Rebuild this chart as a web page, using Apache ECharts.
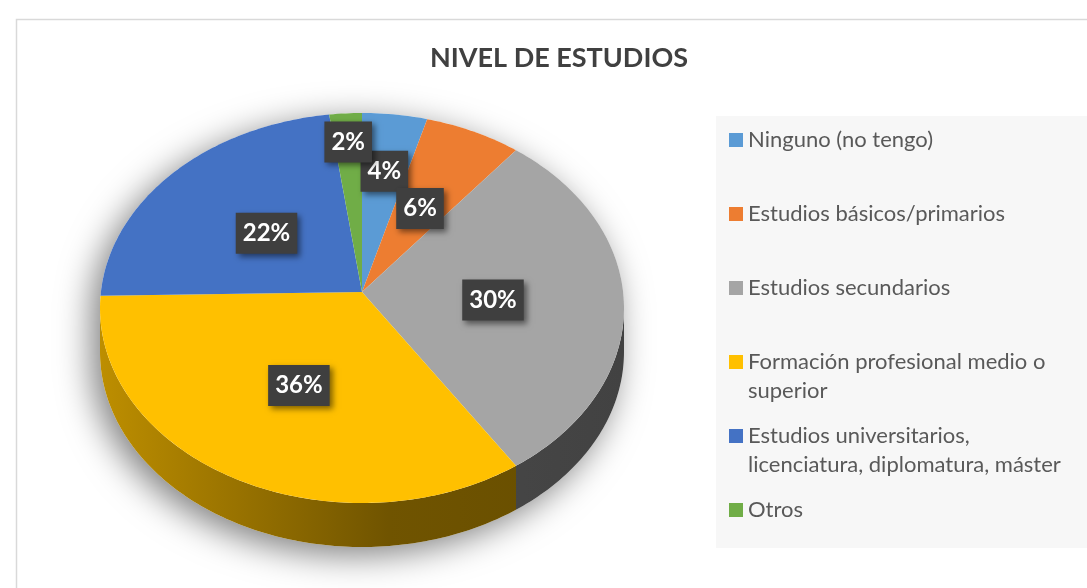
<!DOCTYPE html>
<html>
<head>
<meta charset="utf-8">
<script src="https://cdn.jsdelivr.net/npm/echarts@6/dist/echarts.min.js"></script>
<style>
html, body { margin: 0; padding: 0; background: #fff; }
#container { width: 1087px; height: 588px; }
</style>
</head>
<body>
<div id="container"></div>
<script>
var categories = [
    'Ninguno (no tengo)',
    'Estudios básicos/primarios',
    'Estudios secundarios',
    'Formación profesional medio o superior',
    'Estudios universitarios, licenciatura, diplomatura, máster',
    'Otros'
];
var values = [4, 6, 30, 36, 22, 2];
var legendText = [
    'Ninguno (no tengo)',
    'Estudios básicos/primarios',
    'Estudios secundarios',
    'Formación profesional medio o\nsuperior',
    'Estudios universitarios,\nlicenciatura, diplomatura, máster',
    'Otros'
];
var colors = ['#5b9bd5', '#ed7d31', '#a5a5a5', '#ffc000', '#4472c4', '#70ad47'];

var dom = document.getElementById('container');
var myChart = echarts.init(dom);

// tilted pie geometry
var cx = 362, cy = 308, rx = 262, ry = 195, depth = 44;
var apexX = 362, apexY = 292;
var font = 'Lato';

function pt(a, dy) {
    return [cx + rx * Math.sin(a), cy - ry * Math.cos(a) + (dy || 0)];
}
function arc(a0, a1, dy) {
    var pts = [];
    var n = Math.max(2, Math.ceil(Math.abs(a1 - a0) / (Math.PI / 180)));
    for (var k = 0; k <= n; k++) pts.push(pt(a0 + (a1 - a0) * k / n, dy));
    return pts;
}
function shade(hex, f) {
    var r = parseInt(hex.substr(1, 2), 16), g = parseInt(hex.substr(3, 2), 16), b = parseInt(hex.substr(5, 2), 16);
    return 'rgb(' + Math.round(r * f) + ',' + Math.round(g * f) + ',' + Math.round(b * f) + ')';
}

var total = values.reduce(function (s, v) { return s + v; }, 0);

function makeRender(i) {
    return function (params, api) {
        var before = 0;
        for (var j = 0; j < i; j++) before += values[j];
        var v = api.value(0);
        var a0 = before / total * Math.PI * 2;
        var a1 = (before + v) / total * Math.PI * 2;
        var children = [];

        if (i === 0) {
            // soft shadow under the whole pie
            var sil = arc(-Math.PI / 2, Math.PI / 2, 0).concat(arc(Math.PI / 2, Math.PI * 1.5, depth));
            children.push({
                type: 'polygon', z2: -10, shape: { points: sil },
                style: { fill: '#ffffff', shadowBlur: 34, shadowColor: 'rgba(0,0,0,0.5)', shadowOffsetX: -8, shadowOffsetY: 8 }
            });
        }

        // side wall (front half only)
        var s0 = Math.max(a0, Math.PI / 2), s1 = Math.min(a1, Math.PI * 1.5);
        if (s1 > s0) {
            var side = arc(s0, s1, 0).concat(arc(s1, s0, depth));
            children.push({
                type: 'polygon', z2: 1, shape: { points: side },
                style: {
                    fill: new echarts.graphic.LinearGradient(cx - rx, 0, cx + rx, 0, [
                        { offset: 0, color: shade(colors[i], 0.74) },
                        { offset: 0.55, color: shade(colors[i], 0.44) },
                        { offset: 1, color: shade(colors[i], 0.40) }
                    ], true)
                }
            });
        }

        // top surface
        children.push({
            type: 'polygon', z2: 2,
            shape: { points: [[apexX, apexY]].concat(arc(a0, a1, 0)) },
            style: { fill: colors[i] }
        });

        // data label
        var pct = Math.round(v / total * 100);
        var f = Math.max(0.5, 1 - pct * 0.08);
        var mid = (a0 + a1) / 2;
        var e = pt(mid, 0);
        children.push({
            type: 'text', z2: 100,
            style: {
                text: pct + '%',
                x: apexX + (e[0] - apexX) * f,
                y: apexY + (e[1] - apexY) * f,
                align: 'center', verticalAlign: 'middle',
                fill: '#ffffff', fontSize: 24, fontWeight: 'bold', fontFamily: font,
                backgroundColor: '#3f3f3f', padding: [9, 7, 8, 7],
                shadowBlur: 6, shadowColor: 'rgba(0,0,0,0.5)', shadowOffsetX: 3, shadowOffsetY: 3
            }
        });
        return { type: 'group', children: children };
    };
}

var series = categories.map(function (name, i) {
    return {
        name: name,
        type: 'custom',
        coordinateSystem: 'none',
        color: colors[i],
        silent: true,
        renderItem: makeRender(i),
        data: [values[i]]
    };
});

// icon centres of the legend entries, one slot per entry
var legendFirst = 140, legendStep = 74;
var lineH = 29;
var legends = categories.map(function (name, i) {
    var twoLines = legendText[i].indexOf('\n') >= 0;
    var centre = legendFirst + i * legendStep;
    return {
        data: [name],
        left: 729,
        top: centre - (twoLines ? lineH * 1.5 : lineH / 2),
        padding: 0,
        icon: 'rect',
        itemWidth: 14,
        itemHeight: 14,
        selectedMode: false,
        // a blank first line keeps the icon level with the first real line
        formatter: function (n) {
            var t = legendText[categories.indexOf(n)];
            return t.indexOf('\n') >= 0 ? '\u00a0\n' + t : t;
        },
        textStyle: {
            fontFamily: font, fontSize: 22, color: '#595959', lineHeight: lineH
        }
    };
});

var option = {
    backgroundColor: '#ffffff',
    animation: false,
    title: {
        text: 'NIVEL DE ESTUDIOS',
        left: 554,
        textAlign: 'center',
        top: 40,
        textStyle: { fontFamily: font, fontSize: 27, fontWeight: 'bold', color: '#404040' }
    },
    graphic: [
        {
            type: 'rect', z: -1, left: 14, top: 17,
            shape: { width: 1100, height: 600 },
            style: { fill: null, stroke: '#d9d9d9', lineWidth: 1.5 }
        },
        {
            type: 'rect', z: -1, left: 716, top: 116,
            shape: { width: 372, height: 432 },
            style: { fill: '#f7f7f7' }
        }
    ],
    legend: legends,
    series: series
};

myChart.setOption(option);
</script>
</body>
</html>
